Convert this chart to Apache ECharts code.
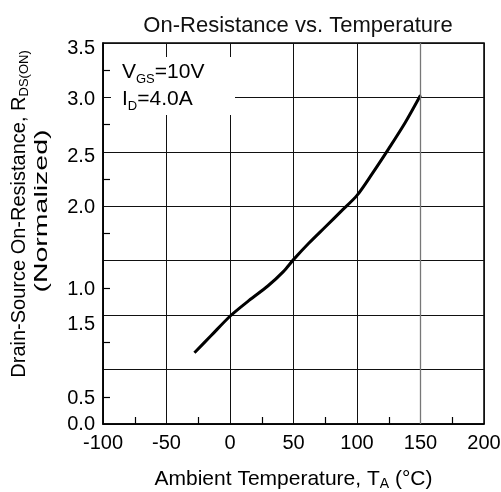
<!DOCTYPE html>
<html>
<head>
<meta charset="utf-8">
<script src="https://cdn.jsdelivr.net/npm/echarts@6/dist/echarts.min.js"></script>
<style>html,body{margin:0;padding:0;background:#fff}#c{width:501px;height:492px}</style>
</head>
<body>
<div id="c"></div>
<script>
// Data
const temps = [-28, -15, 0, 15, 30, 42, 50, 62, 75, 88, 100, 112, 125, 138, 150];
const rdsNorm = [0.655, 0.81, 0.99, 1.135, 1.27, 1.40, 1.51, 1.66, 1.81, 1.96, 2.10, 2.30, 2.53, 2.77, 3.02];
// Y tick labels as printed on the original (value position -> text)
const yTickValues = [0, 0.25, 1.0, 1.25, 2.0, 2.5, 3.0, 3.5];
const yTickTexts = ['0.0', '0.5', '1.5', '1.0', '2.0', '2.5', '3.0', '3.5'];
const xTickLabels = ['-100', '-50', '0', '50', '100', '150', '200'];

const FONT = 'Liberation Sans, Arial, sans-serif';
const chart = echarts.init(document.getElementById('c'), null, {renderer: 'canvas'});

// small vertical nudges of individual printed labels (px, downwards)
const yLabelNudge = [0, 2, 9, 2, 1, 5, 2, 5];
function yLabel(v) {
  for (let i = 0; i < yTickValues.length; i++) {
    if (Math.abs(yTickValues[i] - v) < 1e-6) {
      return '{d' + yLabelNudge[i] + '|' + yTickTexts[i] + '}';
    }
  }
  return '';
}
const yRich = {};
yLabelNudge.forEach(function (d) {
  yRich['d' + d] = {fontSize: 20, fontFamily: FONT, color: '#000', padding: [2 * d, 0, 0, 0]};
});

const option = {
  animation: false,
  backgroundColor: '#fff',
  title: {
    text: 'On-Resistance vs. Temperature',
    left: 298, top: 15, textAlign: 'center', padding: 0,
    textStyle: {fontFamily: FONT, fontSize: 22, fontWeight: 'normal', color: '#111'}
  },
  grid: {left: 103, right: 17, top: 43, bottom: 68, show: true, borderColor: '#000', borderWidth: 1.5,
         backgroundColor: 'transparent', containLabel: false, outerBoundsMode: 'none'},
  xAxis: {
    type: 'value', min: -100, max: 200, interval: 50,
    axisLine: {show: true, onZero: false, lineStyle: {color: '#000', width: 1.5}},
    axisTick: {show: false, inside: true},
    minorTick: {show: true, splitNumber: 2, length: 7, lineStyle: {color: '#000', width: 1.2}},
    splitLine: {show: true, lineStyle: {color: '#111', width: 1}},
    axisLabel: {
      margin: 9, color: '#000', fontFamily: FONT, fontSize: 20,
      formatter: function (v) { const i = Math.round((v + 100) / 50); return xTickLabels[i] || ''; }
    },
    name: '{n|Ambient Temperature, T}{s|A}{n| (°C)}',
    nameLocation: 'middle', nameGap: 43,
    nameTextStyle: {
      color: '#000', fontFamily: FONT,
      rich: {
        n: {fontSize: 21, fontFamily: FONT, color: '#000', lineHeight: 24},
        s: {fontSize: 14, fontFamily: FONT, color: '#000', verticalAlign: 'bottom', lineHeight: 18}
      }
    }
  },
  yAxis: [{
    type: 'value', min: 0, max: 3.5, interval: 0.5, position: 'left',
    axisLine: {show: true, onZero: false, lineStyle: {color: '#000', width: 1.5}},
    axisTick: {show: false, inside: true},
    minorTick: {show: true, splitNumber: 2, length: 7, lineStyle: {color: '#000', width: 1.2}},
    splitLine: {show: true, lineStyle: {color: '#111', width: 1}},
    axisLabel: {show: false}
  }, {
    type: 'value', min: 0, max: 3.5, interval: 0.25, position: 'left', offset: 0,
    axisLine: {show: false, onZero: false}, axisTick: {show: false}, splitLine: {show: false},
    axisLabel: {margin: 8, formatter: yLabel, rich: yRich}
  }],
  graphic: [
    {type: 'rect', z: 50, shape: {x: 111, y: 57, width: 124, height: 58}, style: {fill: '#fff'}},
    {type: 'text', z: 51, x: 122, y: 59, style: {
      text: '{n|V}{s|GS}{n|=10V}\n{n|I}{s|D}{n|=4.0A}',
      fill: '#000', font: '21px ' + FONT,
      rich: {
        n: {fontSize: 21, fontFamily: FONT, fill: '#000', lineHeight: 27},
        s: {fontSize: 13, fontFamily: FONT, fill: '#000', verticalAlign: 'bottom', lineHeight: 20}
      }
    }},
    {type: 'text', z: 51, x: 19, y: 214, rotation: Math.PI / 2, style: {
      text: '{n|Drain-Source On-Resistance, R}{s|DS(ON)}',
      align: 'center', verticalAlign: 'middle', textAlign: 'center', textVerticalAlign: 'middle',
      fill: '#000', font: '20px ' + FONT,
      rich: {
        n: {fontSize: 20, fontFamily: FONT, fill: '#000', lineHeight: 24},
        s: {fontSize: 13, fontFamily: FONT, fill: '#000', verticalAlign: 'bottom', lineHeight: 18}
      }
    }},
    {type: 'text', z: 51, x: 42, y: 211, rotation: Math.PI / 2, scaleX: 1.5, scaleY: 1, style: {
      text: '(Normalized)',
      align: 'center', verticalAlign: 'middle', textAlign: 'center', textVerticalAlign: 'middle',
      fill: '#000', font: '19px ' + FONT
    }}
  ],
  series: [{
    type: 'line', xAxisIndex: 0, yAxisIndex: 0,
    data: temps.map((t, i) => [t, rdsNorm[i]]),
    smooth: 0.3, showSymbol: false, silent: true,
    lineStyle: {color: '#000', width: 3},
    markLine: {
      silent: true, symbol: 'none', label: {show: false},
      lineStyle: {color: '#777', width: 1.3, type: 'solid'},
      data: [{xAxis: 150}]
    }
  }]
};
chart.setOption(option);
</script>
</body>
</html>
